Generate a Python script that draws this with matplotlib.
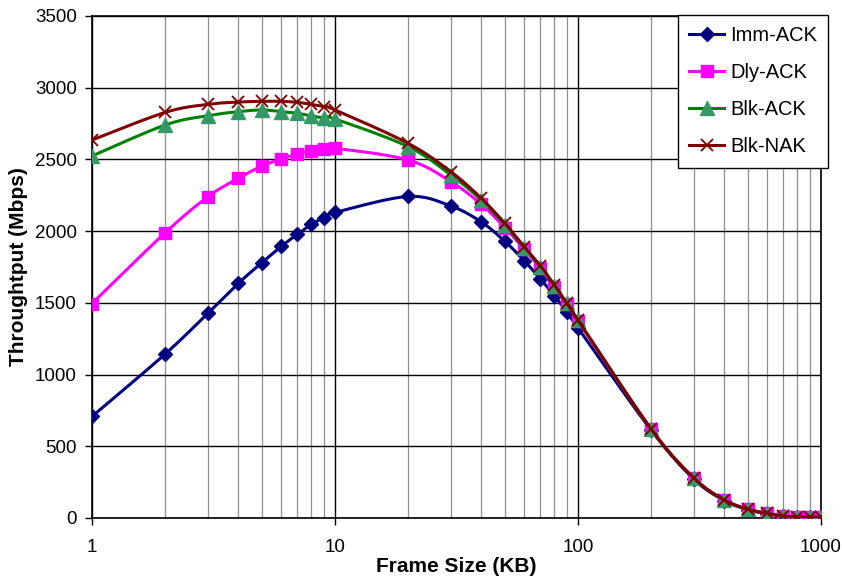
import numpy as np
import matplotlib
matplotlib.use("Agg")
import matplotlib.pyplot as plt
from matplotlib.ticker import FixedLocator, NullFormatter

plt.rcParams['font.family'] = ['Liberation Sans', 'DejaVu Sans']

frame_kb = [1, 2, 3, 4, 5, 6, 7, 8, 9, 10, 20, 30, 40, 50, 60, 70, 80, 90, 100,
            200, 300, 400, 500, 600, 700, 800, 900, 1000]

imm_ack = [708, 1143, 1428, 1636, 1780, 1893, 1978, 2047, 2095, 2130, 2242, 2175, 2064,
           1929, 1795, 1667, 1550, 1434, 1325, 612, 270, 122, 58, 30, 12, 8, 6, 4]
dly_ack = [1495, 1989, 2240, 2368, 2454, 2503, 2538, 2559, 2570, 2578, 2496, 2345, 2187,
           2024, 1875, 1741, 1608, 1492, 1373, 620, 277, 127, 62, 33, 14, 10, 8, 6]
blk_ack = [2524, 2740, 2805, 2833, 2845, 2833, 2822, 2803, 2789, 2782, 2589, 2391, 2217,
           2043, 1885, 1752, 1617, 1497, 1380, 618, 277, 125, 60, 32, 12, 8, 6, 5]
blk_nak = [2635, 2828, 2884, 2900, 2905, 2905, 2898, 2884, 2868, 2845, 2612, 2414, 2229,
           2054, 1892, 1759, 1624, 1497, 1380, 620, 278, 126, 61, 32, 12, 8, 6, 5]

y_ticks = [0, 500, 1000, 1500, 2000, 2500, 3000, 3500]
x_ticks = [1, 10, 100, 1000]
x_tick_labels = ['1', '10', '100', '1000']


def smooth(xs, ys, n=20):
    """Catmull-Rom curve through the points in (log10 x, y) space (line rendering only)."""
    lx = np.log10(np.asarray(xs, float))
    y = np.asarray(ys, float)
    P = np.column_stack([lx, y])
    P = np.vstack([P[0], P, P[-1]])
    out = []
    for i in range(1, len(P) - 2):
        p0, p1, p2, p3 = P[i - 1], P[i], P[i + 1], P[i + 2]
        t = np.linspace(0, 1, n, endpoint=(i == len(P) - 3))[:, None]
        c1 = p1 + (p2 - p0) / 6.0
        c2 = p2 - (p3 - p1) / 6.0
        seg = ((1 - t) ** 3) * p1 + 3 * ((1 - t) ** 2) * t * c1 + 3 * (1 - t) * t ** 2 * c2 + t ** 3 * p2
        out.append(seg)
    out = np.vstack(out)
    return 10 ** out[:, 0], out[:, 1]


fig = plt.figure(figsize=(8.42, 5.79), dpi=100)
ax = fig.add_axes([92 / 842, 1 - 518 / 579, (821 - 92) / 842, (518 - 16) / 579])

series = [
    ("Imm-ACK", imm_ack, '#000080', 'D', '#000080', 7.5),
    ("Dly-ACK", dly_ack, '#FF00FF', 's', '#FF00FF', 8.5),
    ("Blk-ACK", blk_ack, '#008000', '^', '#339966', 10),
    ("Blk-NAK", blk_nak, '#800000', 'x', '#800000', 9),
]

handles = []
for i, (name, vals, lc, mk, mc, ms) in enumerate(series):
    sx, sy = smooth(frame_kb, vals)
    ax.plot(sx, sy, color=lc, lw=2.2, zorder=3 + i, solid_capstyle='round')
    if mk == 'x':
        ax.plot(frame_kb, vals, ls='none', marker=mk, color=mc, ms=ms, mew=1.3, zorder=3 + i)
        h, = ax.plot([], [], color=lc, lw=2.2, marker=mk, ms=ms, mew=1.3, mec=mc)
    else:
        ax.plot(frame_kb, vals, ls='none', marker=mk, color=mc, mec=mc, ms=ms, zorder=3 + i)
        h, = ax.plot([], [], color=lc, lw=2.2, marker=mk, ms=ms, mfc=mc, mec=mc)
    handles.append(h)

ax.set_xscale('log')
ax.set_xlim(1, 1000)
ax.set_ylim(0, 3500)
ax.set_yticks(y_ticks)
ax.xaxis.set_major_locator(FixedLocator(x_ticks))
ax.set_xticklabels(x_tick_labels)
minor = [m * d for d in (1, 10, 100) for m in range(2, 10)]
ax.xaxis.set_minor_locator(FixedLocator(minor))
ax.xaxis.set_minor_formatter(NullFormatter())
ax.tick_params(axis='x', which='minor', length=0)
ax.tick_params(axis='both', which='major', direction='out', length=5, width=1,
               labelsize=13.5, colors='black', pad=10)
ax.tick_params(axis='y', pad=6)

ax.grid(True, which='major', axis='y', color='black', lw=1)
ax.grid(True, which='major', axis='x', color='black', lw=1)
ax.grid(True, which='minor', axis='x', color='#909090', lw=0.9)
ax.set_axisbelow(True)
for s in ax.spines.values():
    s.set_color('black')
    s.set_linewidth(1.2)

ax.set_xlabel('Frame Size (KB)', fontsize=15, fontweight='bold', labelpad=1)
ax.set_ylabel('Throughtput (Mbps)', fontsize=15, fontweight='bold', labelpad=5)

leg = fig.legend(handles, [s[0] for s in series], loc='upper left',
                 bbox_to_anchor=(678 / 842, 1 - 15 / 579), fontsize=14.5,
                 frameon=True, fancybox=False, edgecolor='black', framealpha=1,
                 handlelength=1.75, labelspacing=0.9, borderpad=0.55, handletextpad=0.3,
                 borderaxespad=0)
leg.get_frame().set_linewidth(1.0)

fig.savefig('out.png', dpi=100)
